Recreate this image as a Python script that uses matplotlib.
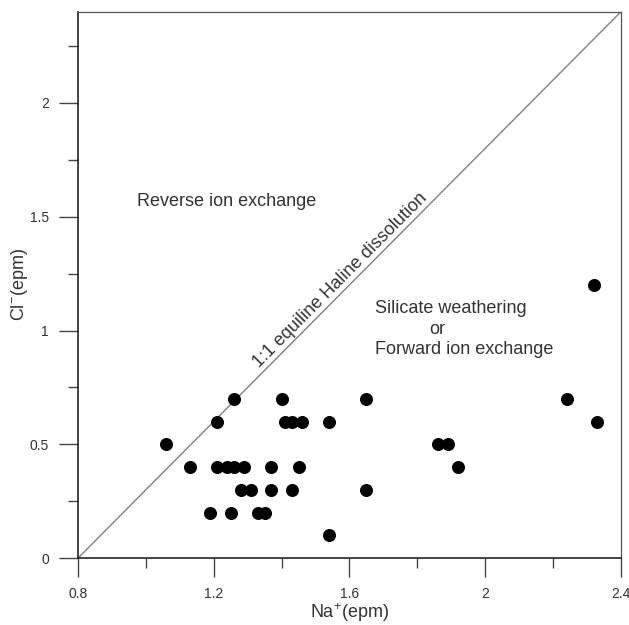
import numpy as np
import matplotlib.pyplot as plt
from matplotlib.ticker import MultipleLocator

plt.rcParams['font.family'] = ['Liberation Sans', 'DejaVu Sans']
plt.rcParams['mathtext.default'] = 'regular'

# Na+ vs Cl- (epm)
na = [1.06, 1.13, 1.19, 1.21, 1.21, 1.24, 1.26, 1.29, 1.26, 1.25,
      1.28, 1.31, 1.33, 1.35, 1.37, 1.37, 1.40, 1.41, 1.43, 1.43,
      1.45, 1.46, 1.54, 1.54, 1.65, 1.65, 1.86, 1.89, 1.92, 2.24,
      2.32, 2.33]
cl = [0.5, 0.4, 0.2, 0.6, 0.4, 0.4, 0.4, 0.4, 0.7, 0.2,
      0.3, 0.3, 0.2, 0.2, 0.3, 0.4, 0.7, 0.6, 0.6, 0.3,
      0.4, 0.6, 0.6, 0.1, 0.3, 0.7, 0.5, 0.5, 0.4, 0.7,
      1.2, 0.6]

xlim = (0.8, 2.4)
ylim = (0, 2.4)

fig = plt.figure(figsize=(6.29, 6.25), dpi=100)
ax = fig.add_axes([0.124, 0.107, 0.863, 0.874])

# equiline from corner to corner
ax.plot(xlim, ylim, color='#808080', lw=1.0, zorder=1)
ax.scatter(na, cl, s=70, color='black', zorder=3)

ax.set_xlim(*xlim)
ax.set_ylim(*ylim)

ax.xaxis.set_minor_locator(MultipleLocator(0.2))
ax.yaxis.set_minor_locator(MultipleLocator(0.25))
ax.set_xticks([0.8, 1.2, 1.6, 2.0, 2.4])
ax.set_xticklabels(['0.8', '1.2', '1.6', '2', '2.4'])
ax.set_yticks([0, 0.5, 1, 1.5, 2])
ax.set_yticklabels(['0', '0.5', '1', '1.5', '2'])

ax.tick_params(which='major', length=13.5, width=1, color='#444444',
               labelsize=10, labelcolor='#333333', pad=7.5)
ax.tick_params(which='minor', length=7, width=1, color='#444444')

for side in ['left', 'bottom']:
    ax.spines[side].set_color('#222222')
    ax.spines[side].set_linewidth(1.2)
for side in ['top', 'right']:
    ax.spines[side].set_color('#555555')
    ax.spines[side].set_linewidth(0.9)

ax.set_xlabel('Na$^{+}$(epm)', fontsize=13, color='#333333', labelpad=0)
ax.set_ylabel('Cl$^{-}$(epm)', fontsize=13, color='#333333', labelpad=0)

ax.text(0.975, 1.565, 'Reverse ion exchange', fontsize=13, color='#333333',
        va='center', ha='left')
ax.text(1.676, 1.095, 'Silicate weathering', fontsize=13, color='#333333',
        va='center', ha='left')
ax.text(1.858, 1.005, 'or', fontsize=13, color='#333333', va='center', ha='center')
ax.text(1.676, 0.918, 'Forward ion exchange', fontsize=13, color='#333333',
        va='center', ha='left')

ang = np.degrees(np.arctan2(546, 543))
ax.text(1.59, 1.195, '1:1 equiline Haline dissolution', fontsize=13,
        color='#333333', rotation=ang, rotation_mode='anchor',
        ha='center', va='bottom')

fig.savefig('out.png', dpi=100)
